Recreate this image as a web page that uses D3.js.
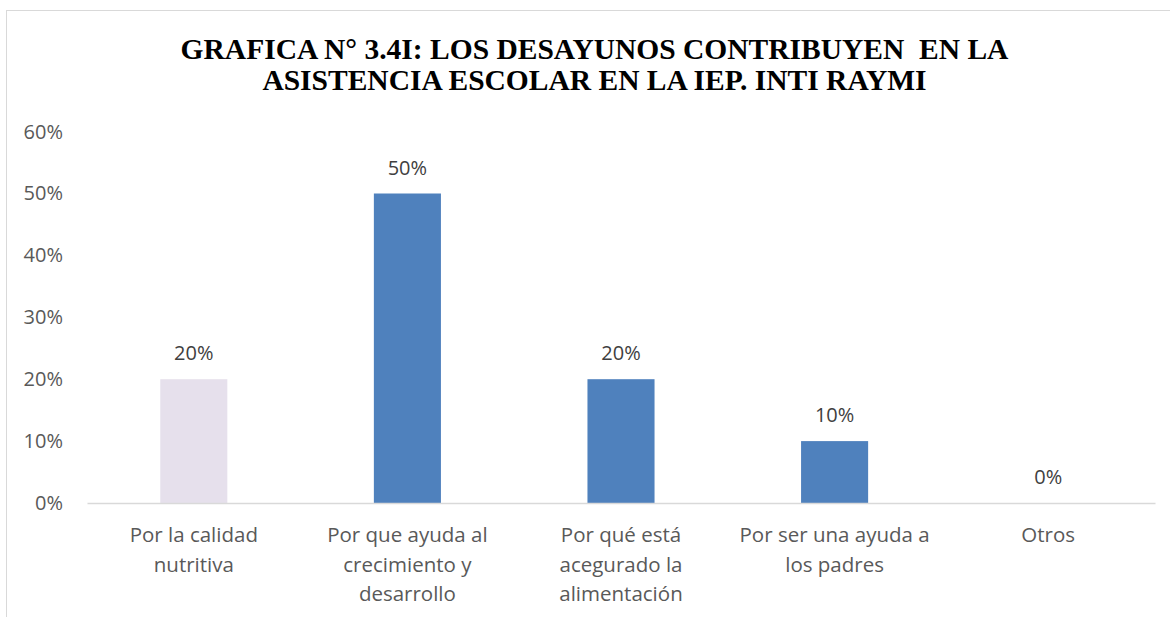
<!DOCTYPE html>
<html><head><meta charset="utf-8">
<script src="https://cdn.jsdelivr.net/npm/d3@7"></script>
<style>body{margin:0;background:#fff}svg{display:block}</style>
</head><body>
<svg id="c" width="1170" height="617"></svg>
<script>
const categories = [
  ["Por la calidad","nutritiva"],
  ["Por que ayuda al","crecimiento y","desarrollo"],
  ["Por qué está","acegurado la","alimentación"],
  ["Por ser una ayuda a","los padres"],
  ["Otros"]
];
const values = [0.20, 0.50, 0.20, 0.10, 0.00];
const barColors = ["#E6E0EC","#4F81BD","#4F81BD","#4F81BD","#4F81BD"];
const yTicks = [0,0.1,0.2,0.3,0.4,0.5,0.6];
const titleLines = ["GRAFICA N° 3.4I: LOS DESAYUNOS CONTRIBUYEN  EN LA","ASISTENCIA ESCOLAR EN LA IEP. INTI RAYMI"];

const svg = d3.select("#c");
const pLeft = 87, pRight = 1155, pTop = 131.6, pBottom = 503;
const font = "'Open Sans', sans-serif";

svg.append("rect").attr("x",6.5).attr("y",10.5).attr("width",1200).attr("height",700)
  .attr("fill","#fff").attr("stroke","#d9d9d9").attr("stroke-width",1);

const x = d3.scaleBand().domain(d3.range(categories.length)).range([pLeft,pRight])
  .paddingInner(0.686).paddingOuter(0.343);
const y = d3.scaleLinear().domain([0,0.6]).range([pBottom,pTop]);
const fmt = d3.format(".0%");

// title
const t = svg.append("text").attr("text-anchor","middle")
  .attr("font-family","'Liberation Serif', 'Times New Roman', serif").attr("font-weight","bold")
  .attr("font-size",29.5).attr("fill","#000");
titleLines.forEach((l,i)=> t.append("tspan").attr("x",594.5).attr("y",59+i*31).attr("xml:space","preserve").text(l));

// y axis labels
const yAxis = d3.axisLeft(y).tickValues(yTicks).tickFormat(fmt).tickSize(0).tickPadding(0);
const ga = svg.append("g").attr("transform","translate(63,0)").call(yAxis);
ga.select(".domain").remove();
ga.selectAll("text").attr("font-family",font).attr("font-size",20).attr("fill","#595959");

// bars
svg.selectAll("rect.bar").data(values).join("rect").attr("class","bar")
  .attr("x",(d,i)=>x(i)).attr("width",x.bandwidth())
  .attr("y",d=>y(d)).attr("height",d=>pBottom-y(d))
  .attr("fill",(d,i)=>barColors[i]);

// baseline
const xAxis = d3.axisBottom(x).tickSize(0).tickFormat("");
const gx = svg.append("g").attr("transform",`translate(0,${pBottom})`).call(xAxis);
gx.select(".domain").attr("stroke","#d9d9d9").attr("stroke-width",1.5);

// value labels
svg.selectAll("text.val").data(values).join("text").attr("class","val")
  .attr("x",(d,i)=>x(i)+x.bandwidth()/2).attr("y",d=>y(d)-19)
  .attr("text-anchor","middle").attr("font-family",font).attr("font-size",20).attr("fill","#404040")
  .text(d=>fmt(d));

// category labels
categories.forEach((lines,i)=>{
  const tx = svg.append("text").attr("text-anchor","middle").attr("font-family",font)
    .attr("font-size",20.5).attr("fill","#595959");
  lines.forEach((l,j)=>tx.append("tspan").attr("x",x(i)+x.bandwidth()/2).attr("y",542+j*29.5).text(l));
});
</script>
</body></html>
